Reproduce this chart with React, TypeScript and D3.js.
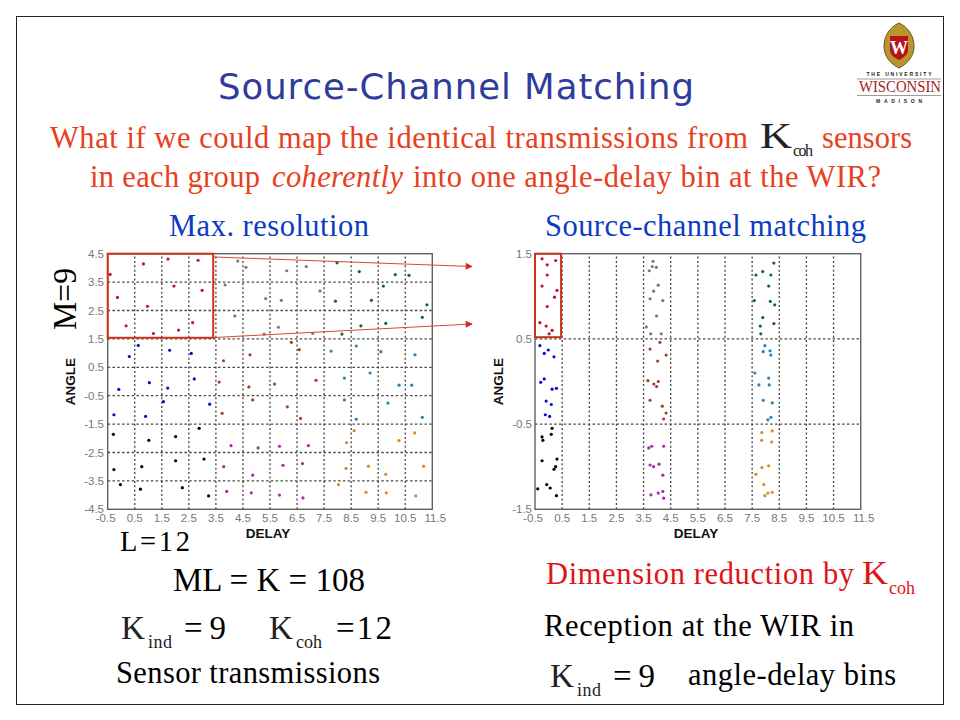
import React from "react";
import * as d3 from "d3";

type P = [number, number];

const delayTicks = [-0.5, 0.5, 1.5, 2.5, 3.5, 4.5, 5.5, 6.5, 7.5, 8.5, 9.5, 10.5, 11.5];
const leftAngleTicks = [-4.5, -3.5, -2.5, -1.5, -0.5, 0.5, 1.5, 2.5, 3.5, 4.5];
const rightAngleTicks = [-1.5, -0.5, 0.5, 1.5];

const colors = {
  red: "#c4122f", gray: "#7a7a7a", green: "#0f6a2c", blue: "#0c0cd0", black: "#000000",
  brown: "#a2441c", cyan: "#2a82b4", magenta: "#a82ca8", orange: "#d68a2c",
};

const leftRed: P[] = [[-0.41,3.77],[-0.14,2.96],[0.18,1.96],[0.82,4.14],[0.97,2.65],[1.19,1.69],[1.73,4.31],[1.95,3.36],[2.12,1.81],[2.64,2.07],[2.84,4.27],[2.99,3.21]];
const leftGray: P[] = [[3.84,3.40],[4.31,4.24],[4.61,4.02],[4.20,2.31],[6.12,3.90],[6.84,4.05],[7.35,3.19],[5.34,2.92],[5.92,2.86],[5.81,1.91],[5.28,1.67],[7.08,1.69]];
const leftGreen: P[] = [[7.98,4.18],[8.80,3.87],[10.13,3.76],[10.64,3.74],[9.69,3.36],[7.92,2.83],[9.25,2.86],[11.30,2.70],[11.13,2.26],[9.78,2.05],[8.86,1.96],[8.16,1.67]];
const leftBlue: P[] = [[0.63,1.27],[0.30,0.88],[1.79,1.10],[2.59,0.99],[1.04,-0.04],[-0.09,-0.28],[1.72,-0.23],[2.70,0.09],[1.56,-0.71],[3.27,-0.80],[-0.27,-1.17],[0.90,-1.23]];
const leftBlack: P[] = [[-0.29,-1.86],[1.02,-2.07],[2.01,-1.94],[2.88,-1.65],[2.01,-2.79],[3.06,-2.73],[0.76,-3.00],[-0.27,-3.10],[-0.03,-3.63],[0.71,-3.79],[2.26,-3.74],[3.23,-4.03]];
const leftBrown: P[] = [[3.78,0.73],[4.76,0.94],[3.62,-0.02],[4.72,-0.19],[4.86,-0.65],[3.73,-1.12],[6.29,1.38],[6.58,1.12],[5.67,-0.09],[7.20,0.04],[6.14,-0.89],[6.63,-1.30]];
const leftCyan: P[] = [[7.76,1.07],[8.69,1.25],[9.60,1.05],[10.86,0.94],[8.25,0.12],[9.20,0.30],[10.27,-0.13],[10.74,-0.13],[8.25,-0.65],[9.86,-0.76],[8.69,-1.33],[11.13,-1.26]];
const leftMagenta: P[] = [[4.06,-2.26],[5.06,-2.34],[3.79,-3.00],[4.86,-3.30],[3.90,-3.87],[4.81,-3.92],[5.85,-2.28],[6.92,-2.26],[5.98,-2.95],[6.70,-2.89],[5.85,-4.00],[6.72,-4.10]];
const leftOrange: P[] = [[8.61,-1.73],[8.33,-2.15],[10.85,-1.81],[10.27,-2.08],[9.14,-2.98],[8.31,-3.06],[11.18,-2.98],[9.78,-3.27],[8.03,-3.63],[9.05,-3.90],[9.80,-3.92],[10.89,-4.03]];

const rightRed: P[] = [[-0.24,1.44],[-0.05,1.37],[0.26,1.42],[-0.05,1.25],[-0.24,1.12],[0.31,1.07],[0.22,0.99],[-0.05,0.88],[-0.32,0.69],[-0.09,0.65],[0.13,0.60],[0.02,0.56]];
const rightGray: P[] = [[3.85,1.41],[3.82,1.35],[3.97,1.34],[3.71,1.30],[4.04,1.13],[3.87,1.06],[3.74,0.97],[4.21,0.95],[3.98,0.77],[3.60,0.64],[3.76,0.56],[4.15,0.56]];
const rightGreen: P[] = [[8.30,1.39],[7.89,1.29],[7.64,1.25],[8.19,1.25],[8.11,1.12],[7.58,0.95],[8.17,0.94],[8.33,0.90],[7.89,0.75],[8.30,0.68],[7.80,0.65],[7.82,0.56]];
const rightBlue: P[] = [[-0.32,0.42],[-0.16,0.33],[-0.01,0.37],[0.20,0.29],[-0.29,-0.01],[-0.16,0.03],[0.13,-0.09],[0.29,-0.08],[-0.09,-0.23],[0.10,-0.27],[-0.12,-0.39],[0.04,-0.41]];
const rightBlack: P[] = [[0.13,-0.55],[0.10,-0.62],[-0.24,-0.65],[-0.21,-0.69],[-0.24,-0.93],[0.31,-0.91],[0.26,-1.00],[0.20,-1.03],[-0.07,-1.21],[0.06,-1.25],[-0.40,-1.26],[0.29,-1.34]];
const rightBrown: P[] = [[4.10,0.46],[3.74,0.38],[4.33,0.31],[4.02,0.24],[3.66,0.01],[3.88,-0.03],[4.04,0.00],[3.98,-0.06],[3.74,-0.22],[4.19,-0.29],[4.33,-0.37],[4.24,-0.44]];
const rightCyan: P[] = [[7.97,0.42],[7.91,0.35],[8.16,0.36],[8.19,0.31],[7.60,0.10],[8.11,0.04],[7.75,-0.04],[8.13,-0.04],[7.91,-0.22],[8.24,-0.25],[8.08,-0.45],[8.19,-0.42]];
const rightMagenta: P[] = [[3.69,-0.78],[3.80,-0.76],[4.24,-0.76],[3.74,-0.98],[3.87,-1.00],[4.07,-0.97],[4.21,-1.10],[3.77,-1.33],[4.04,-1.31],[4.21,-1.29],[4.24,-1.37]];
const rightOrange: P[] = [[8.24,-0.58],[7.86,-0.60],[7.85,-0.69],[8.22,-0.71],[8.11,-0.99],[7.86,-1.01],[7.64,-1.09],[7.93,-1.21],[8.24,-1.30],[8.08,-1.31],[7.97,-1.34]];

const leftSeries: [string, P[]][] = [
  [colors.red, leftRed], [colors.gray, leftGray], [colors.green, leftGreen], [colors.blue, leftBlue],
  [colors.brown, leftBrown], [colors.cyan, leftCyan], [colors.black, leftBlack], [colors.magenta, leftMagenta], [colors.orange, leftOrange],
];
const rightSeries: [string, P[]][] = [
  [colors.red, rightRed], [colors.gray, rightGray], [colors.green, rightGreen], [colors.blue, rightBlue],
  [colors.brown, rightBrown], [colors.cyan, rightCyan], [colors.black, rightBlack], [colors.magenta, rightMagenta], [colors.orange, rightOrange],
];

const SERIF = "'Liberation Serif', serif";
const SANS = "'Liberation Sans', sans-serif";

function Panel(props: {
  series: [string, P[]][]; yTicks: number[]; x0: number; x1: number; y0: number; y1: number;
  box: [number, number, number, number]; labelRight: number; angleX: number; delayX: number;
}) {
  const { series, yTicks, x0, x1, y0, y1, box, labelRight, angleX, delayX } = props;
  const x = d3.scaleLinear().domain([-0.5, 11.5]).range([x0, x1]);
  const y = d3.scaleLinear().domain([yTicks[0], yTicks[yTicks.length - 1]]).range([y0, y1]);
  const grid = "#444";
  return (
    <g>
      {delayTicks.slice(1, -1).map((t) => (
        <line key={t} x1={x(t)} x2={x(t)} y1={y0} y2={y1} stroke={grid} strokeWidth={1.3} strokeDasharray="2 2.4" />
      ))}
      {yTicks.slice(1, -1).map((t) => (
        <line key={t} x1={x0} x2={x1} y1={y(t)} y2={y(t)} stroke={grid} strokeWidth={1.3} strokeDasharray="2.4 2.4" />
      ))}
      <rect x={x0} y={y1} width={x1 - x0} height={y0 - y1} fill="none" stroke="#606060" strokeWidth={1.4} />
      {delayTicks.map((t) => (
        <text key={t} x={x(t) + (t === -0.5 ? -2 : t === 11.5 ? 3 : 0)} y={y0 + 13} textAnchor="middle" fontFamily={SANS} fontSize={11.5} fill="#777">{t}</text>
      ))}
      {yTicks.map((t) => (
        <text key={t} x={labelRight} y={y(t) + 4} textAnchor="end" fontFamily={SANS} fontSize={11.5} fill="#777">{t}</text>
      ))}
      {series.map(([c, pts], i) => (
        <g key={i} fill={c}>
          {pts.map((p, j) => <circle key={j} cx={x(p[0])} cy={y(p[1])} r={1.6} />)}
        </g>
      ))}
      <text transform={`translate(${angleX},${(y0 + y1) / 2}) rotate(-90)`} textAnchor="middle" fontFamily={SANS} fontWeight="bold" fontSize={13.5} fill="#111">ANGLE</text>
      <text x={delayX} y={y0 + 29} textAnchor="middle" fontFamily={SANS} fontWeight="bold" fontSize={13.5} fill="#111">DELAY</text>
      <rect x={x(box[0])} y={y(box[3])} width={x(box[1]) - x(box[0])} height={y(box[2]) - y(box[3])} fill="none" stroke="#c8341c" strokeWidth={2} />
    </g>
  );
}

function T(p: { x: number; y: number; w?: number; s?: number; c?: string; i?: boolean; stretch?: boolean; children: string }) {
  return (
    <text x={p.x} y={p.y} fontFamily={SERIF} fontSize={p.s ?? 30.5} fill={p.c ?? "#000"} fontStyle={p.i ? "italic" : "normal"}
      textLength={p.w} lengthAdjust={p.stretch ? "spacingAndGlyphs" : "spacing"}>{p.children}</text>
  );
}

function Logo() {
  return (
    <g>
      <path d="M899,23 C908,27 914,36 914,46 C914,57 907,64 899,68 C891,64 884,57 884,46 C884,36 890,27 899,23 Z" fill="#b8962c" stroke="#6a5518" strokeWidth={1} />
      <path d="M890,36 L908,36 L908,50 C908,55 903,58 899,60 C895,58 890,55 890,50 Z" fill="#b5121b" />
      <text x={899} y={54} textAnchor="middle" fontFamily={SERIF} fontWeight="bold" fontSize={18} fill="#fff">W</text>
      <text x={899} y={75.5} textAnchor="middle" fontFamily={SANS} fontWeight="bold" fontSize={5} textLength={65} fill="#222">THE UNIVERSITY</text>
      <line x1={857} x2={941} y1={79} y2={79} stroke="#a09a9a" strokeWidth={1} />
      <text x={859} y={92} fontFamily={SERIF} fontSize={16.5} textLength={82} lengthAdjust="spacingAndGlyphs" fill="#a81c28">WISCONSIN</text>
      <line x1={857} x2={941} y1={95.5} y2={95.5} stroke="#a09a9a" strokeWidth={1} />
      <text x={899} y={102.5} textAnchor="middle" fontFamily={SANS} fontWeight="bold" fontSize={5} textLength={46} fill="#222">MADISON</text>
    </g>
  );
}

export default function App() {
  const arrow = "#d24a38";
  return (
    <svg width={960} height={720} viewBox="0 0 960 720" style={{ position: "absolute", left: 0, top: 0, display: "block", background: "#fff" }}>
      <defs>
        <marker id="ah" viewBox="0 0 10 10" refX="9" refY="5" markerWidth="9" markerHeight="7" orient="auto" markerUnits="userSpaceOnUse">
          <path d="M0,0 L10,5 L0,10 Z" fill="#d02c1c" />
        </marker>
      </defs>
      <rect x={16.5} y={16.5} width={927} height={688} fill="none" stroke="#222" strokeWidth={1} />
      <Logo />
      <text x={218} y={99} fontFamily="'DejaVu Sans', sans-serif" fontSize={35.5} fill="#2f3c9c" textLength={476}>Source-Channel Matching</text>

      <T x={50} y={148} w={698} c="#e8401c">What if we could map the identical transmissions from</T>
      <T x={760} y={148} w={32} s={36} c="#222" stretch>K</T>
      <T x={793} y={156} w={20} s={16} c="#222">coh</T>
      <T x={822} y={148} w={90} c="#e8401c">sensors</T>
      <T x={90} y={187} w={170} c="#e8401c">in each group</T>
      <T x={272} y={187} w={131} c="#e8401c" i>coherently</T>
      <T x={413} y={187} w={468} c="#e8401c">into one angle-delay bin at the WIR?</T>

      <T x={169} y={236} w={200} c="#0c3cc0">Max. resolution</T>
      <T x={545} y={236} w={321} c="#0c3cc0">Source-channel matching</T>

      <Panel series={leftSeries} yTicks={leftAngleTicks} x0={107.7} x1={432.3} y0={509.3} y1={253.7}
        box={[-0.5, 3.4, 1.54, 4.5]} labelRight={104} angleX={75} delayX={268} />
      <Panel series={rightSeries} yTicks={rightAngleTicks} x0={535} x1={860.7} y0={509.3} y1={253.7}
        box={[-0.5, 0.46, 0.52, 1.5]} labelRight={532} angleX={503} delayX={696} />

      <line x1={214} y1={257} x2={472} y2={266.5} stroke={arrow} strokeWidth={1} markerEnd="url(#ah)" />
      <line x1={214} y1={337.5} x2={472} y2={324} stroke={arrow} strokeWidth={1} markerEnd="url(#ah)" />

      <text transform="translate(76,330) rotate(-90)" fontFamily={SERIF} fontSize={33} textLength={62} lengthAdjust="spacingAndGlyphs" fill="#000">M=9</text>
      <T x={120} y={550.5} w={70} s={28.5}>L=12</T>
      <T x={173} y={591} w={192} s={33} stretch>ML = K = 108</T>

      <T x={121} y={639} w={24} s={33} c="#222" stretch>K</T>
      <T x={148} y={648} w={24} s={18} c="#222">ind</T>
      <T x={184} y={639} w={42} s={33}>= 9</T>
      <T x={269} y={639} w={24} s={33} c="#222" stretch>K</T>
      <T x={296} y={648} w={26} s={18} c="#222">coh</T>
      <T x={336} y={639} w={56} s={33}>=12</T>
      <T x={116} y={683} w={264}>Sensor transmissions</T>

      <T x={546} y={584} w={308} c="#e01414">Dimension reduction by</T>
      <T x={862} y={584} w={26} s={33} c="#e01414" stretch>K</T>
      <T x={889} y={594} w={26} s={18} c="#e01414">coh</T>
      <T x={544} y={636} w={310}>Reception at the WIR in</T>
      <T x={550} y={687} w={24} s={33} c="#222" stretch>K</T>
      <T x={577} y={696} w={24} s={18} c="#222">ind</T>
      <T x={613} y={687} w={42} s={33}>= 9</T>
      <T x={688} y={685} w={208}>angle-delay bins</T>
    </svg>
  );
}
